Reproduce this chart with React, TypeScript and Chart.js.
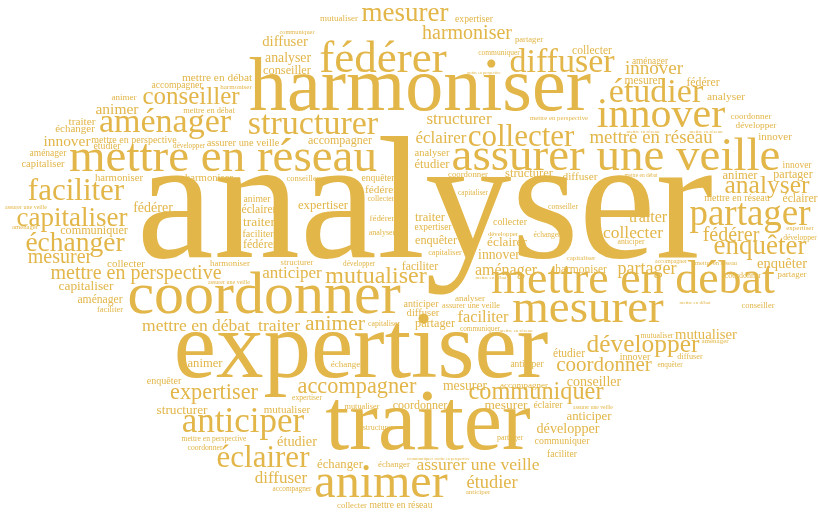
import React, { useEffect, useRef } from "react";
import { Chart, registerables } from "chart.js";

Chart.register(...registerables);

// Word cloud data: word, layout position (x centre, y baseline in cloud units), weight (font size)
const words: string[] = [
  "analyser", "harmoniser", "expertiser", "traiter", "coordonner", "mettre en réseau", "assurer une veille", "mettre en débat",
  "mesurer", "fédérer", "animer", "innover", "partager", "étudier", "diffuser", "aménager",
  "structurer", "anticiper", "collecter", "éclairer", "faciliter", "mesurer", "échanger", "capitaliser",
  "enquêter", "conseiller", "analyser", "développer", "communiquer", "mutualiser", "accompagner", "expertiser",
  "animer", "coordonner", "harmoniser", "fédérer", "mettre en perspective", "mesurer", "innover", "mettre en réseau",
  "étudier", "partager", "assurer une veille", "mettre en débat", "traiter", "collecter", "structurer", "éclairer",
  "diffuser", "anticiper", "faciliter", "traiter", "aménager", "innover", "animer", "mutualiser",
  "enquêter", "étudier", "développer", "fédérer", "conseiller", "analyser", "innover", "mesurer",
  "mesurer", "capitaliser", "traiter", "éclairer", "structurer", "anticiper", "expertiser", "échanger",
  "animer", "traiter", "étudier", "animer", "structurer", "conseiller", "communiquer", "enquêter",
  "partager", "coordonner", "accompagner", "fédérer", "partager", "éclairer", "éclairer", "fédérer",
  "faciliter", "aménager", "collecter", "mesurer", "étudier", "harmoniser", "analyser", "mettre en débat",
  "traiter", "diffuser", "fédérer", "échanger", "collecter", "innover", "mutualiser", "harmoniser",
  "harmoniser", "diffuser", "capitaliser", "analyser", "assurer une veille", "mettre en réseau", "mettre en perspective", "faciliter",
  "anticiper", "enquêter", "innover", "collecter", "communiquer", "étudier", "animer", "éclairer",
  "diffuser", "enquêter", "expertiser", "accompagner", "faciliter", "mettre en réseau", "innover", "anticiper",
  "aménager", "aménager", "expertiser", "développer", "animer", "coordonner", "analyser", "échanger",
  "accompagner", "mutualiser", "coordonner", "fédérer", "échanger", "harmoniser", "partager", "collecter",
  "structurer", "partager", "conseiller", "conseiller", "faciliter", "mettre en débat", "assurer une veille", "mutualiser",
  "capitaliser", "diffuser", "analyser", "structurer", "partager", "coordonner", "collecter", "capitaliser",
  "mutualiser", "conseiller", "anticiper", "coordonner", "mettre en perspective", "expertiser", "développer", "communiquer",
  "échanger", "accompagner", "capitaliser", "enquêter", "développer", "communiquer", "développer", "expertiser",
  "capitaliser", "harmoniser", "anticiper", "aménager", "mettre en perspective", "développer", "aménager", "mettre en réseau",
  "communiquer", "assurer une veille", "assurer une veille", "accompagner", "assurer une veille", "mettre en débat", "mettre en réseau", "mettre en réseau",
  "mettre en débat", "mettre en réseau", "mettre en débat", "communiquer", "mettre en perspective", "mettre en perspective",
];

const posX: number[] = [
  425, 420, 361, 428, 264, 223, 616, 633,
  588, 383, 381, 661, 750, 656, 562, 165,
  313, 243, 521, 263, 76, 405, 75, 72,
  760, 191, 767, 643, 536, 376, 357, 214,
  335, 604, 467, 731, 136, 60, 654, 651,
  492, 647, 478, 196, 279, 633, 459, 441,
  281, 292, 483, 648, 506, 67, 117, 706,
  782, 297, 568, 153, 594, 288, 499, 465,
  506, 86, 259, 507, 182, 589, 323, 340,
  740, 430, 432, 205, 529, 287, 94, 436,
  435, 420, 340, 260, 793, 259, 800, 703,
  420, 100, 592, 643, 569, 581, 726, 217,
  82, 580, 381, 75, 126, 775, 287, 119,
  209, 423, 43, 432, 243, 737, 134, 258,
  421, 164, 635, 510, 562, 107, 257, 548,
  285, 378, 474, 177, 562, 401, 797, 527,
  48, 650, 433, 756, 124, 751, 470, 347,
  524, 339, 468, 382, 394, 230, 792, 352,
  297, 529, 303, 758, 110, 209, 471, 362,
  445, 690, 382, 378, 510, 743, 381, 384,
  657, 563, 631, 205, 214, 307, 800, 499,
  547, 292, 473, 670, 189, 480, 359, 800,
  581, 236, 478, 715, 559, 503, 25, 716,
  297, 26, 229, 671, 593, 641, 643, 706,
  491, 516, 695, 420, 452, 484,
];

const posY: number[] = [
  257, 110, 377, 449, 313, 171, 170, 293,
  322, 72, 497, 127, 225, 102, 72, 132,
  134, 432, 146, 467, 200, 21, 251, 226,
  254, 104, 193, 352, 399, 283, 393, 399,
  330, 371, 39, 241, 279, 263, 74, 143,
  488, 274, 470, 331, 331, 238, 124, 143,
  483, 278, 322, 222, 275, 146, 114, 339,
  268, 446, 433, 212, 386, 62, 259, 390,
  409, 290, 226, 246, 414, 420, 209, 468,
  179, 221, 168, 367, 177, 74, 234, 244,
  327, 409, 144, 248, 178, 213, 202, 86,
  270, 303, 54, 84, 357, 273, 100, 81,
  125, 180, 193, 132, 267, 140, 413, 181,
  181, 316, 167, 156, 146, 201, 143, 237,
  307, 384, 360, 225, 444, 149, 202, 408,
  46, 181, 22, 88, 457, 508, 168, 367,
  156, 64, 230, 128, 100, 119, 301, 367,
  388, 21, 177, 221, 467, 266, 277, 508,
  265, 42, 181, 308, 312, 113, 308, 409,
  255, 359, 235, 430, 440, 278, 201, 326,
  338, 209, 244, 450, 441, 400, 240, 55,
  237, 491, 195, 367, 148, 331, 266, 230,
  260, 89, 494, 343, 120, 236, 229, 265,
  34, 209, 284, 263, 409, 177, 133, 133,
  279, 332, 304, 460, 460, 74,
];

const weights: number[] = [
  173, 76, 95, 86, 60, 47, 47, 46,
  47, 45, 48, 42, 37, 34, 34, 34,
  34, 35, 31, 31, 31, 27, 27.5, 27,
  27, 25, 25.5, 25.4, 24.3, 24, 22.3, 22.3,
  21.6, 21, 20, 20, 20, 20, 19, 18.8,
  18.4, 18, 17.6, 17.5, 17.6, 17.4, 17, 17,
  17, 17, 16.4, 16, 16, 15.4, 15.5, 14.7,
  14.5, 14.4, 14.2, 14, 14, 13.8, 13.7, 13.7,
  13.4, 13.4, 13.4, 13.3, 13.3, 12.9, 12.7, 12.7,
  12.6, 12.6, 12.6, 12.6, 12.5, 12.3, 12.2, 12.2,
  12.2, 12, 12, 12, 12, 11.7, 11.7, 11.7,
  11.7, 11.6, 11.6, 11.5, 11.5, 11.5, 11.4, 11.4,
  11.3, 11.3, 11.3, 11, 11, 11, 11, 10.7,
  10.7, 10.6, 10.5, 10.5, 10.4, 10, 10, 10,
  10, 10, 10, 9.9, 9.9, 9.7, 9.7, 9.7,
  14.8, 9.6, 9.6, 9.6, 9.6, 9.6, 9.5, 9.5,
  9.5, 9.3, 9.4, 9.2, 9, 9, 9, 9,
  9, 9, 8.8, 8.8, 8.9, 8.9, 8.9, 8.7,
  8.6, 8.6, 8.5, 8.5, 8.4, 8.4, 8.3, 8.3,
  8.2, 8.2, 8, 8, 8, 8, 7.8, 7.8,
  7.8, 7.7, 7.7, 7.7, 7.6, 7.6, 7.6, 7.5,
  7.5, 7.3, 7.3, 7.3, 7.2, 7.2, 7.2, 7,
  7, 7, 7, 7, 6.8, 6.8, 6.7, 6.4,
  6.3, 6, 6, 6, 5.7, 5.4, 5, 5,
  5, 5, 5, 4.7, 4.1, 3.9,
];

const WORD_COLOR = "rgb(226, 182, 73)";
const FONT_FAMILY = '"Liberation Serif", "DejaVu Serif", serif';

const wordPlugin = {
  id: "wordCloudText",
  afterDatasetsDraw(chart: any) {
    const meta = chart.getDatasetMeta(0);
    const data = chart.data.datasets[0].data as any[];
    const ctx = chart.ctx as CanvasRenderingContext2D;
    ctx.save();
    ctx.fillStyle = WORD_COLOR;
    ctx.textAlign = "center";
    ctx.textBaseline = "alphabetic";
    meta.data.forEach((el: any, i: number) => {
      const d = data[i];
      ctx.font = `${d.weight}px ${FONT_FAMILY}`;
      ctx.fillText(d.word, el.x, el.y);
    });
    ctx.restore();
  },
};

export default function App() {
  const canvasRef = useRef<HTMLCanvasElement | null>(null);

  useEffect(() => {
    document.body.style.margin = "0";
    document.body.style.overflow = "hidden";
    const canvas = canvasRef.current;
    if (!canvas) return;
    const points = words.map((w, i) => ({ x: posX[i], y: posY[i], word: w, weight: weights[i] }));
    const chart = new Chart(canvas, {
      type: "scatter",
      data: {
        datasets: [
          {
            label: "mots",
            data: points as any,
            pointRadius: 0,
            pointHoverRadius: 0,
            backgroundColor: WORD_COLOR,
          },
        ],
      },
      options: {
        animation: false,
        responsive: false,
        maintainAspectRatio: false,
        layout: { padding: 0 },
        events: [],
        plugins: {
          legend: { display: false },
          tooltip: { enabled: false },
          title: { display: false },
        },
        scales: {
          x: { type: "linear", min: 0, max: 818, display: false },
          y: { type: "linear", min: 0, max: 516, reverse: true, display: false },
        },
      },
      plugins: [wordPlugin],
    });
    return () => chart.destroy();
  }, []);

  return (
    <div style={{ width: 818, height: 516, background: "#ffffff" }}>
      <canvas ref={canvasRef} width={818} height={516} style={{ display: "block" }} />
    </div>
  );
}
